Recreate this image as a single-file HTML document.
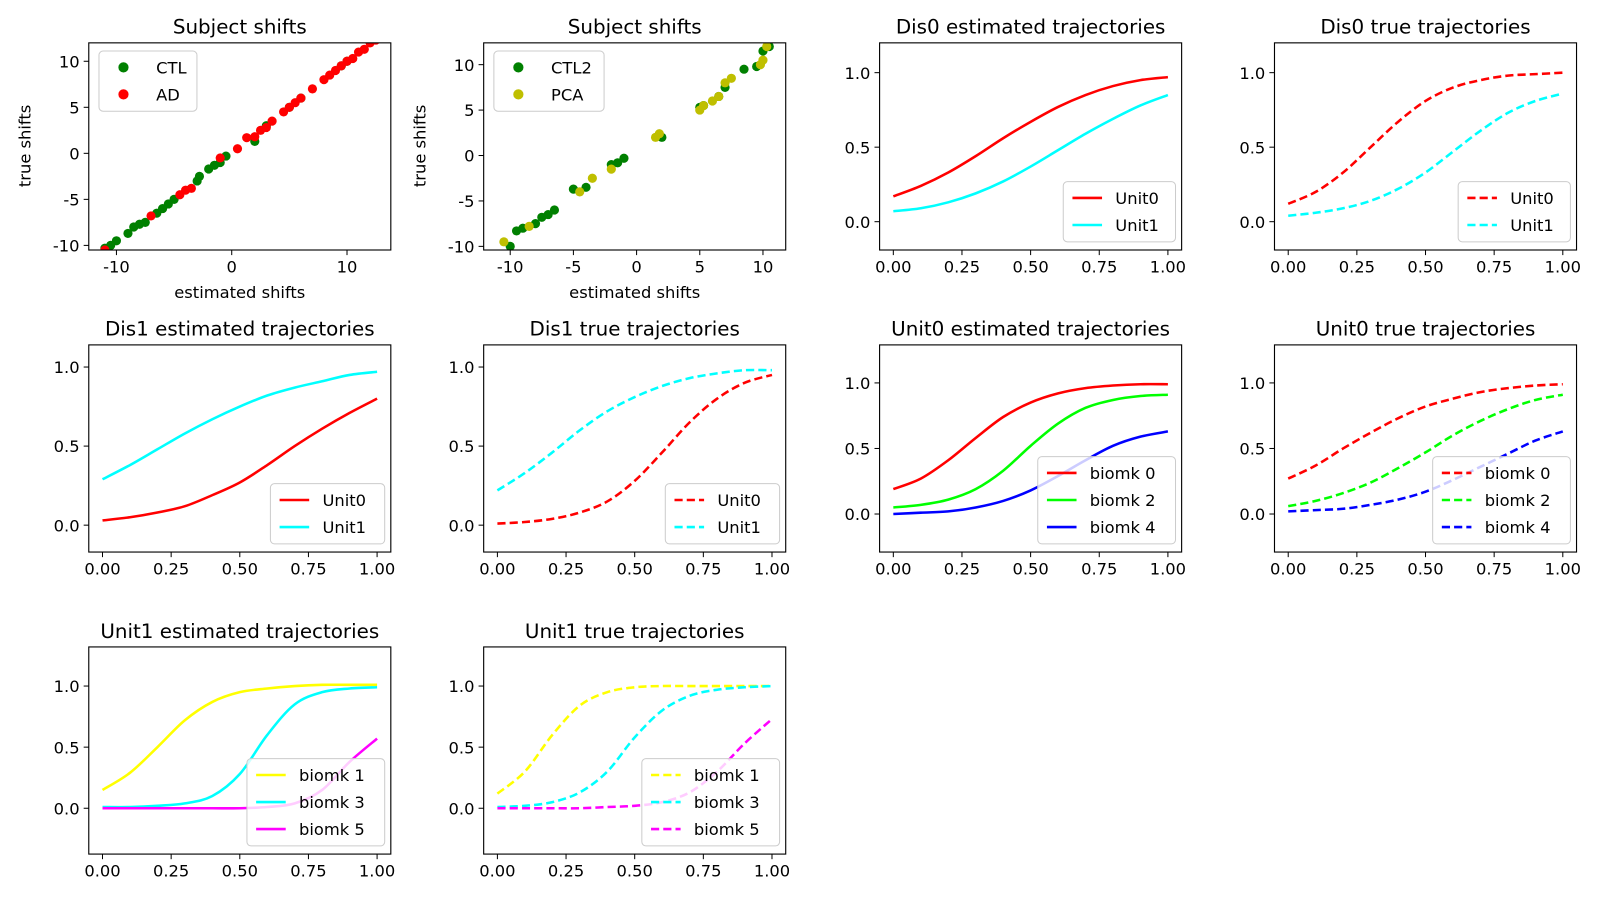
<!DOCTYPE html>
<html><head><meta charset="utf-8"><style>
body{margin:0;background:#fff;overflow:hidden;}
svg{display:block;font-family:"DejaVu Sans","Liberation Sans",sans-serif;}
</style></head><body>
<svg id="fig" width="1600" height="900" viewBox="0 0 1568 882" xmlns="http://www.w3.org/2000/svg"></svg>
<script>
const xs = [0,0.1,0.2,0.3,0.4,0.5,0.6,0.7,0.8,0.9,1.0];
const lineTicksX = [0,0.25,0.5,0.75,1.0];
const lineTickLabelsX = ["0.00","0.25","0.50","0.75","1.00"];
const yTicksLine = [0,0.5,1.0];
const yTickLabelsLine = ["0.0","0.5","1.0"];
// scatter data
const s1CTL = [[-11,-10.3],[-10.5,-10],[-10,-9.5],[-9,-8.7],[-8.5,-8],[-8,-7.7],[-7.5,-7.5],[-6.5,-6.5],[-6,-6],[-5.5,-5.5],[-5,-5],[-3,-3],[-2.8,-2.5],[-2,-1.7],[-1.5,-1.3],[-1,-1],[-0.5,-0.3],[2,1.3],[3,3],[5,5],[6,6],[9.5,9.5],[10,10]];
const s1AD = [[-11,-10.5],[-7,-6.8],[-4.5,-4.5],[-4,-4],[-3.5,-3.8],[-1,-0.5],[0.5,0.5],[1.3,1.7],[2,1.8],[2.5,2.5],[3,2.8],[3.5,3.5],[4.5,4.5],[5,5],[5.5,5.5],[6,6],[7,7],[8,8],[8.5,8.5],[9,9],[9.5,9.5],[10,10],[10.5,10.3],[11,11],[11.5,11.3],[12,12],[12.5,12.3]];
const s2CTL2 = [[-10,-10],[-9.5,-8.3],[-9,-8],[-8,-7.5],[-7.5,-6.8],[-7,-6.5],[-6.5,-6],[-5,-3.7],[-4,-3.5],[-2,-1],[-1.5,-0.8],[-1,-0.3],[2,2],[5,5.3],[5.3,5.5],[6.5,6.5],[7,7.5],[8.5,9.5],[9.5,9.8],[10,11.5],[10.5,12]];
const s2PCA = [[-10.5,-9.5],[-8.5,-7.8],[-4.5,-4],[-3.5,-2.5],[-2,-1.5],[1.5,2],[1.8,2.4],[5,5],[5.3,5.5],[6,6],[6.5,6.5],[7,8],[7.5,8.5],[9.8,10],[10,10.5],[10.3,12]];
// line data
const dis0EstU0=[0.17,0.24,0.33,0.44,0.56,0.67,0.77,0.85,0.91,0.95,0.97];
const dis0EstU1=[0.07,0.09,0.13,0.19,0.27,0.37,0.48,0.59,0.69,0.78,0.85];
const dis0TrueU0=[0.12,0.2,0.33,0.5,0.67,0.81,0.9,0.95,0.98,0.99,1.0];
const dis0TrueU1=[0.04,0.06,0.09,0.14,0.22,0.33,0.47,0.61,0.73,0.81,0.86];
const dis1EstU0=[0.03,0.05,0.08,0.12,0.19,0.27,0.38,0.5,0.61,0.71,0.8];
const dis1EstU1=[0.29,0.38,0.48,0.58,0.67,0.75,0.82,0.87,0.91,0.95,0.97];
const dis1TrueU0=[0.01,0.02,0.04,0.08,0.15,0.28,0.46,0.65,0.8,0.9,0.95];
const dis1TrueU1=[0.22,0.33,0.46,0.6,0.72,0.81,0.88,0.93,0.96,0.98,0.98];
const u0EstB0=[0.19,0.27,0.41,0.58,0.74,0.85,0.92,0.96,0.98,0.99,0.99];
const u0EstB2=[0.05,0.07,0.11,0.19,0.33,0.52,0.69,0.81,0.87,0.9,0.91];
const u0EstB4=[0.0,0.01,0.02,0.05,0.1,0.18,0.29,0.41,0.52,0.59,0.63];
const u0TrueB0=[0.27,0.37,0.5,0.62,0.73,0.82,0.88,0.93,0.96,0.98,0.99];
const u0TrueB2=[0.06,0.1,0.16,0.24,0.35,0.47,0.6,0.71,0.8,0.87,0.91];
const u0TrueB4=[0.02,0.03,0.04,0.07,0.11,0.17,0.26,0.36,0.46,0.56,0.63];
const u1EstB1=[0.15,0.29,0.5,0.72,0.87,0.95,0.98,1.0,1.01,1.01,1.01];
const u1EstB3=[0.01,0.01,0.02,0.04,0.1,0.28,0.6,0.85,0.95,0.98,0.99];
const u1EstB5=[0,0,0,0,0,0,0.01,0.04,0.15,0.38,0.57];
const u1TrueB1=[0.12,0.3,0.6,0.84,0.95,0.99,1.0,1.0,1.0,1.0,1.0];
const u1TrueB3=[0.01,0.02,0.05,0.13,0.3,0.58,0.8,0.92,0.97,0.99,1.0];
const u1TrueB5=[0,0,0,0,0.01,0.02,0.05,0.13,0.3,0.53,0.73];

const NS="http://www.w3.org/2000/svg";
const fig=document.getElementById('fig');
function mk(tag,attrs,parent,text){const e=document.createElementNS(NS,tag);for(const k in attrs)e.setAttribute(k,attrs[k]);if(text!==undefined)e.textContent=text;(parent||fig).appendChild(e);return e;}
function scale(d0,d1,p0,p1){return v=>p0+(v-d0)/(d1-d0)*(p1-p0);}
function catmull(pts){let d="M"+pts[0][0]+","+pts[0][1];for(let i=0;i<pts.length-1;i++){const p0=pts[i-1]||pts[i],p1=pts[i],p2=pts[i+1],p3=pts[i+2]||p2;const c1=[p1[0]+(p2[0]-p0[0])/6,p1[1]+(p2[1]-p0[1])/6],c2=[p2[0]-(p3[0]-p1[0])/6,p2[1]-(p3[1]-p1[1])/6];d+=" C"+c1+" "+c2+" "+p2;}return d;}

function axes(name,x0,y0,w,h,title,xd,yd,xt,xtl,yt,ytl){
  const g=mk('g',{}, fig);
  
  
  const sx=scale(xd[0],xd[1],x0,x0+w), sy=scale(yd[0],yd[1],y0+h,y0);
  const t=mk('text',{x:x0+w/2,y:y0-9,'text-anchor':'middle','font-size':19.5},g,title);
  
  xt.forEach((v,i)=>{const X=sx(v);mk('line',{x1:X,x2:X,y1:y0+h,y2:y0+h+5,stroke:'#000','stroke-width':1},g);
    const l=mk('text',{x:X,y:y0+h+22,'text-anchor':'middle','font-size':16},g,xtl[i]);});
  yt.forEach((v,i)=>{const Y=sy(v);mk('line',{x1:x0-5,x2:x0,y1:Y,y2:Y,stroke:'#000','stroke-width':1},g);
    const l=mk('text',{x:x0-9,y:Y+6,'text-anchor':'end','font-size':16},g,ytl[i]);});
  const clip='c'+name;const cp=mk('clipPath',{id:clip},g);mk('rect',{x:x0,y:y0,width:w,height:h},cp);
  const plot=mk('g',{'clip-path':'url(#'+clip+')'},g);
  return {g,plot,sx,sy,x0,y0,w,h,frame:()=>mk('rect',{x:x0,y:y0,width:w,height:h,fill:'none',stroke:'#000','stroke-width':1.1},g)};
}
function legend(ax,x,y,w,entries,kind){
  const lg=mk('g',{},ax.g);
  const h=entries.length*26.5+6;
  mk('rect',{x,y,width:w,height:h,rx:4,fill:'#fff','fill-opacity':0.8,stroke:'#ccc'},lg);
  entries.forEach((e,i)=>{const cy=y+16+i*26.5;
    const en=mk('g',{},lg);
    if(kind==='dot'){mk('circle',{cx:x+24,cy:cy,r:5,fill:e.c},en);mk('text',{x:x+56,y:cy+6,'font-size':16},en,e.t);}
    else{mk('line',{x1:x+9,x2:x+38,y1:cy,y2:cy,stroke:e.c,'stroke-width':2.5,'stroke-dasharray':e.dash?'8,4':'none'},en);mk('text',{x:x+51,y:cy+6,'font-size':16},en,e.t);}
  });
}
function scatter(name,x0,title,xd,yd,xt,yt,A,B,ca,cb,la,lb,lw){
  const ax=axes(name,x0,42,296,203,title,xd,yd,xt,xt.map(String),yt,yt.map(String));
  [[A,ca],[B,cb]].forEach(([arr,c])=>arr.forEach(p=>{const d=mk('circle',{cx:ax.sx(p[0]),cy:ax.sy(p[1]),r:4.5,fill:c},ax.plot);}));
  ax.frame();
  const xl=mk('text',{x:x0+148,y:292,'text-anchor':'middle','font-size':16},ax.g,'estimated shifts');
  const yl=mk('text',{x:0,y:0,transform:`translate(${x0-57},143) rotate(-90)`,'text-anchor':'middle','font-size':16},ax.g,'true shifts');
  legend(ax,x0+10,50,lw,[{t:la,c:ca},{t:lb,c:cb}],'dot');
}
scatter('subject-shifts-1',87,'Subject shifts',[-12.4,13.8],[-10.5,12],[-10,0,10],[-10,-5,0,5,10],s1CTL,s1AD,'#008000','#ff0000','CTL','AD',96);
scatter('subject-shifts-2',474,'Subject shifts',[-12.1,11.8],[-10.4,12.4],[-10,-5,0,5,10],[-10,-5,0,5,10],s2CTL2,s2PCA,'#008000','#bfbf00','CTL2','PCA',108);

function lineChart(name,x0,y0,title,yd,series,lw){
  const ax=axes(name,x0,y0,296,203,title,[-0.05,1.05],yd,lineTicksX,lineTickLabelsX,yTicksLine,yTickLabelsLine);
  series.forEach(s=>{const p=mk('path',{d:catmull(xs.map((x,i)=>[ax.sx(x),ax.sy(s.v[i])])),fill:'none',stroke:s.c,'stroke-width':2.5,'stroke-dasharray':s.dash?'8,4':'none'},ax.plot);});
  ax.frame();
  const h=series.length*26.5+6;
  legend(ax,x0+296-6-lw,y0+203-8-h,lw,series,'line');
}
const R1=[-0.19,1.2], R2a=[-0.17,1.14], R2b=[-0.29,1.29], R3=[-0.375,1.32];
lineChart('dis0-est',862,42,'Dis0 estimated trajectories',R1,[{t:'Unit0',c:'#ff0000',v:dis0EstU0},{t:'Unit1',c:'#00ffff',v:dis0EstU1}],110);
lineChart('dis0-true',1249,42,'Dis0 true trajectories',R1,[{t:'Unit0',c:'#ff0000',v:dis0TrueU0,dash:1},{t:'Unit1',c:'#00ffff',v:dis0TrueU1,dash:1}],110);
lineChart('dis1-est',87,338,'Dis1 estimated trajectories',R2a,[{t:'Unit0',c:'#ff0000',v:dis1EstU0},{t:'Unit1',c:'#00ffff',v:dis1EstU1}],112);
lineChart('dis1-true',474,338,'Dis1 true trajectories',R2a,[{t:'Unit0',c:'#ff0000',v:dis1TrueU0,dash:1},{t:'Unit1',c:'#00ffff',v:dis1TrueU1,dash:1}],112);
lineChart('unit0-est',862,338,'Unit0 estimated trajectories',R2b,[{t:'biomk 0',c:'#ff0000',v:u0EstB0},{t:'biomk 2',c:'#00ff00',v:u0EstB2},{t:'biomk 4',c:'#0000ff',v:u0EstB4}],135);
lineChart('unit0-true',1249,338,'Unit0 true trajectories',R2b,[{t:'biomk 0',c:'#ff0000',v:u0TrueB0,dash:1},{t:'biomk 2',c:'#00ff00',v:u0TrueB2,dash:1},{t:'biomk 4',c:'#0000ff',v:u0TrueB4,dash:1}],135);
lineChart('unit1-est',87,634,'Unit1 estimated trajectories',R3,[{t:'biomk 1',c:'#ffff00',v:u1EstB1},{t:'biomk 3',c:'#00ffff',v:u1EstB3},{t:'biomk 5',c:'#ff00ff',v:u1EstB5}],135);
lineChart('unit1-true',474,634,'Unit1 true trajectories',R3,[{t:'biomk 1',c:'#ffff00',v:u1TrueB1,dash:1},{t:'biomk 3',c:'#00ffff',v:u1TrueB3,dash:1},{t:'biomk 5',c:'#ff00ff',v:u1TrueB5,dash:1}],135);
</script>
</body></html>
